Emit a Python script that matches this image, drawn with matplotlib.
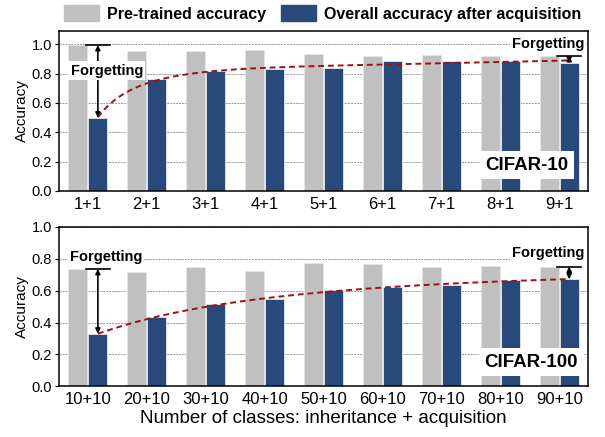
import numpy as np
import matplotlib
matplotlib.use("Agg")
import matplotlib.pyplot as plt
from matplotlib.patches import Patch

plt.rcParams['font.family'] = ['Liberation Sans', 'DejaVu Sans']

labels10 = ["1+1", "2+1", "3+1", "4+1", "5+1", "6+1", "7+1", "8+1", "9+1"]
pre10 = [0.995, 0.955, 0.955, 0.96, 0.935, 0.92, 0.93, 0.92, 0.92]
acq10 = [0.50, 0.765, 0.815, 0.83, 0.835, 0.885, 0.885, 0.885, 0.875]

labels100 = ["10+10", "20+10", "30+10", "40+10", "50+10", "60+10", "70+10", "80+10", "90+10"]
pre100 = [0.735, 0.715, 0.745, 0.725, 0.77, 0.765, 0.745, 0.755, 0.75]
acq100 = [0.33, 0.435, 0.515, 0.545, 0.605, 0.625, 0.635, 0.665, 0.67]

gray = "#c0c0c0"
blue = "#284a7a"
red = "#a01010"
w = 0.32
off = 0.17


def panel(ax, labels, pre, acq, ylim, ticks, name, name_xy, txt_left, txt_right):
    x = np.arange(len(labels))
    ax.bar(x - off, pre, w, color=gray, edgecolor="#e6e6e6", lw=0.6, zorder=2)
    ax.bar(x + off, acq, w, color=blue, edgecolor="#e6e6e6", lw=0.6, zorder=2)

    # smooth trend through the acquisition accuracy
    u = np.log(x + 1.0)
    coef = np.polyfit(u, acq, 3)
    xs = np.linspace(0, len(x) - 1, 200)
    ax.plot(xs + off, np.polyval(coef, np.log(xs + 1.0)), ls=(0, (3, 2)),
            color=red, lw=1.4, zorder=4)

    # forgetting markers on the first and last group
    for i in (0, len(x) - 1):
        xb = i + off
        ax.plot([xb - 0.2, xb + 0.2], [pre[i], pre[i]], color="black", lw=1.2, zorder=5)
        ax.annotate("", xy=(xb, acq[i]), xytext=(xb, pre[i]),
                    arrowprops=dict(arrowstyle="<|-|>", color="black", lw=1.2,
                                    mutation_scale=7, shrinkA=0, shrinkB=0),
                    zorder=5)
    bb = dict(boxstyle="square,pad=0.15", fc="white", ec="none")
    ax.text(txt_left[0], txt_left[1], "Forgetting", ha="center", va="center",
            fontsize=10.5, fontweight="bold", bbox=bb, zorder=6)
    ax.text(txt_right[0], txt_right[1], "Forgetting", ha="center", va="center",
            fontsize=10.5, fontweight="bold", bbox=bb, zorder=6)
    ax.text(name_xy[0], name_xy[1], name, ha="center", va="center",
            fontsize=13.5, fontweight="bold",
            bbox=dict(boxstyle="square,pad=0.3", fc="white", ec="none"), zorder=6)

    ax.set_xlim(-0.49, len(x) - 0.51)
    ax.set_ylim(*ylim)
    ax.set_yticks(ticks)
    ax.set_yticklabels(["%.1f" % t for t in ticks])
    ax.set_xticks(x)
    ax.set_xticklabels(labels)
    ax.tick_params(axis="x", length=0, labelsize=12, pad=4)
    ax.tick_params(axis="y", length=3, labelsize=10.5, pad=2)
    ax.yaxis.grid(True, ls=(0, (2, 1)), color="#999999", lw=0.7)
    ax.set_axisbelow(True)
    ax.set_ylabel("Accuracy", fontsize=11, labelpad=2)
    for s in ax.spines.values():
        s.set_linewidth(1.1)


fig = plt.figure(figsize=(6.05, 4.37), dpi=100)
ax1 = fig.add_axes([0.0975, 0.563, 0.8745, 0.366])
ax2 = fig.add_axes([0.0975, 0.1156, 0.8745, 0.366])

panel(ax1, labels10, pre10, acq10, (0, 1.09), [0, 0.2, 0.4, 0.6, 0.8, 1.0],
      "CIFAR-10", (7.45, 0.175), (0.32, 0.82), (7.81, 1.0))
panel(ax2, labels100, pre100, acq100, (0, 1.0), [0, 0.2, 0.4, 0.6, 0.8, 1.0],
      "CIFAR-100", (7.53, 0.153), (0.31, 0.81), (7.82, 0.835))

ax2.set_xlabel("Number of classes: inheritance + acquisition", fontsize=13.5, labelpad=2)

handles = [Patch(color=gray), Patch(color=blue)]
fig.legend(handles, ["Pre-trained accuracy", "Overall accuracy after acquisition"],
           loc="center", bbox_to_anchor=(0.533, 0.969), ncol=2, frameon=False,
           prop=dict(weight="bold", size=11.5), handlelength=2.2, handleheight=1.1,
           handletextpad=0.5, columnspacing=0.9, borderaxespad=0)

fig.savefig("out.png", dpi=100)
